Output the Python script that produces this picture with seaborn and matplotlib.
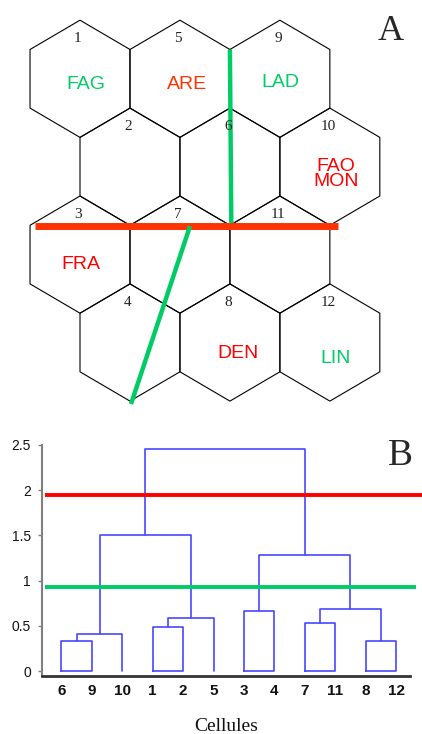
import numpy as np
import pandas as pd
import matplotlib
matplotlib.use("Agg")
import matplotlib.pyplot as plt
from matplotlib.patches import RegularPolygon
import seaborn as sns

# ---------------- Panel A data (hexagonal map) ----------------
cell_ids = list(range(1, 13))
grid_cols = [0, 0, 0, 0, 1, 1, 1, 1, 2, 2, 2, 2]
grid_rows = [0, 1, 2, 3, 0, 1, 2, 3, 0, 1, 2, 3]
site_names = ["FAG", "ARE", "LAD", "FAO\nMON", "FRA", "DEN", "LIN"]
site_cells = [1, 5, 9, 10, 3, 8, 12]
site_colors = ["#00CC66", "#FF3300", "#00CC66", "#FF0000", "#FF0000", "#FF0000", "#00CC66"]
site_offsets = [(0.10, -0.10), (0.12, -0.10), (0.0, -0.07), (0.10, -0.12),
                (0.02, -0.17), (0.14, -0.19), (0.10, -0.28)]
# cut lines drawn on the map (hex units)
cutA_red_x = [-0.78, 4.47]
cutA_red_y = [-2.51, -2.51]
cutA_green1_x = [2.598, 2.622]
cutA_green1_y = [0.50, -2.46]
cutA_green2_x = [1.906, 0.884]
cutA_green2_y = [-2.515, -5.55]

# ---------------- Panel B data (dendrogram) ----------------
leaf_labels = ["6", "9", "10", "1", "2", "5", "3", "4", "7", "11", "8", "12"]
merge_a = [0, 12, 3, 14, 6, 8, 10, 17, 16, 13, 21]
merge_b = [1, 2, 4, 5, 7, 9, 11, 18, 19, 15, 20]
merge_h = [0.33, 0.41, 0.49, 0.59, 0.66, 0.53, 0.33, 0.69, 1.28, 1.50, 2.46]
yticks = [0, 0.5, 1, 1.5, 2, 2.5]
ytick_labels = ["0", "0.5", "1", "1.5", "2", "2.5"]
red_cut = 1.95
green_cut = 0.93

# ---------------- style ----------------
sns.set_theme(style="white")
plt.rcParams["font.family"] = ["Liberation Sans", "DejaVu Sans"]
SERIF = ["Liberation Serif", "DejaVu Serif"]

W, H = 422, 734
fig = plt.figure(figsize=(W / 100, H / 100), dpi=100)
fig.patch.set_facecolor("white")

# ---------------- Panel A ----------------
axA = fig.add_axes([0, (H - 420) / H, 1, 420 / H])
axA.set_xlim(-1.3865, 5.927)
axA.set_ylim(-5.8225, 1.3447)
axA.axis("off")

sq3 = np.sqrt(3)
centers = {}
for cid, c, r in zip(cell_ids, grid_cols, grid_rows):
    x = c * sq3 + (r % 2) * sq3 / 2
    y = -1.5 * r
    centers[cid] = (x, y)
    axA.add_patch(RegularPolygon((x, y), numVertices=6, radius=1.0, orientation=0,
                                 facecolor="none", edgecolor="black", lw=0.8))
    axA.text(x - 0.035, y + 0.62, str(cid), ha="center", va="baseline",
             family=SERIF, fontsize=11, color="#222222")

for name, cid, col, (dx, dy) in zip(site_names, site_cells, site_colors, site_offsets):
    x, y = centers[cid]
    axA.text(x + dx, y + dy, name, ha="center", va="center", fontsize=14,
             color=col, linespacing=0.85)

axA.plot(cutA_red_x, cutA_red_y, color="#FF3300", lw=5, solid_capstyle="butt")
axA.plot(cutA_green1_x, cutA_green1_y, color="#00CC66", lw=3.2, solid_capstyle="butt")
axA.plot(cutA_green2_x, cutA_green2_y, color="#00CC66", lw=3.2, solid_capstyle="butt")

fig.text(391 / W, 1 - 40 / H, "A", ha="center", va="baseline", family=SERIF, fontsize=26)

# ---------------- Panel B ----------------
axB = fig.add_axes([42 / W, 58 / H, 368 / W, 231 / H])
axB.set_xlim(-0.641, 11.46)
axB.set_ylim(-0.055, 2.5)

n = len(leaf_labels)
pos = {i: float(i) for i in range(n)}
hgt = {i: 0.0 for i in range(n)}
rows = []
for k, (a, b, h) in enumerate(zip(merge_a, merge_b, merge_h)):
    xa, xb = pos[a], pos[b]
    ha, hb = hgt[a], hgt[b]
    if a < n and b < n:
        xs, ys = [xa, xa, xb, xb, xa], [0, h, h, 0, 0]
    else:
        xs, ys = [xa, xa, xb, xb], [ha, h, h, hb]
    for i, (xx, yy) in enumerate(zip(xs, ys)):
        rows.append({"seg": k, "order": i, "x": xx, "y": yy})
    pos[n + k] = (xa + xb) / 2
    hgt[n + k] = h
seg_df = pd.DataFrame(rows)
sns.lineplot(data=seg_df, x="x", y="y", units="seg", estimator=None, sort=False,
             color="#4848FF", lw=1.2, ax=axB, legend=False)

axB.plot([-0.54, 11.86], [red_cut, red_cut], color="#FF0000", lw=2.8,
         clip_on=False, solid_capstyle="butt")
axB.plot([-0.54, 11.66], [green_cut, green_cut], color="#00CC66", lw=2.8,
         clip_on=False, solid_capstyle="butt")

sns.despine(ax=axB)
axB.spines["left"].set_color("#808080")
axB.spines["left"].set_linewidth(1.5)
axB.spines["bottom"].set_color("#333333")
axB.spines["bottom"].set_linewidth(2)

axB.set_xticks(range(n), leaf_labels, fontweight="bold", fontsize=11)
axB.set_yticks(yticks, ytick_labels, fontsize=10)
axB.tick_params(axis="x", length=0, pad=6, colors="#111111")
axB.tick_params(axis="y", length=3, width=1, color="#808080", pad=5,
                labelcolor="#111111", left=True)
axB.set_xlabel("Cellules", family=SERIF, fontsize=14, labelpad=14, color="#111111")
axB.set_ylabel("")
axB.grid(False)

fig.text(400 / W, 1 - 465 / H, "B", ha="center", va="baseline", family=SERIF, fontsize=27)

fig.savefig("out.png", dpi=100)
